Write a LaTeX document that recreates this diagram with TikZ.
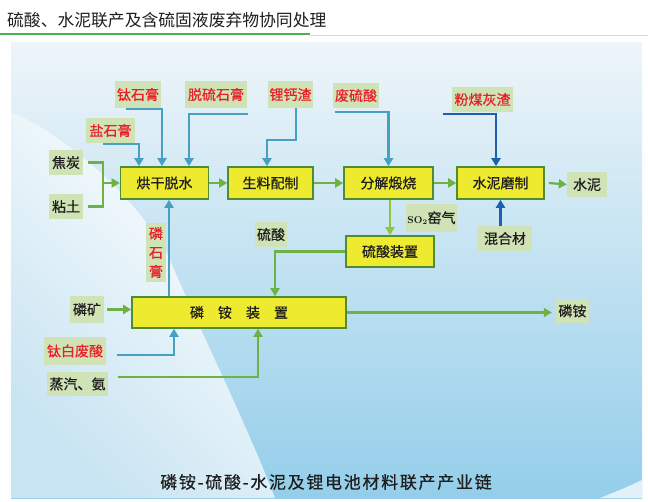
\documentclass[tikz,border=0pt]{standalone}
\usepackage{fontspec}
\newfontfamily\cjk{Noto Sans CJK SC}
\newfontfamily\cjkb{Noto Sans CJK SC}[FakeBold=0.6]
\newfontfamily\cjkcap{Noto Sans CJK SC}[FakeBold=0.5, LetterSpace=10]
\usetikzlibrary{arrows.meta,calc}
\definecolor{boxfill}{RGB}{238,234,48}
\definecolor{boxdraw}{RGB}{80,140,50}
\definecolor{labfill}{RGB}{208,227,182}
\definecolor{redtxt}{RGB}{232,30,40}
\definecolor{txt}{RGB}{30,30,30}
\definecolor{gline}{RGB}{110,178,70}
\definecolor{ygline}{RGB}{140,198,60}
\definecolor{bline}{RGB}{70,160,195}
\definecolor{dbline}{RGB}{30,95,175}
\definecolor{bgtop}{RGB}{238,245,249}
\definecolor{bgmid}{RGB}{198,227,242}
\definecolor{bgbot}{RGB}{148,206,234}
\definecolor{swb}{RGB}{200,228,242}
\definecolor{swr}{RGB}{226,240,248}
\definecolor{titlegreen}{RGB}{76,175,80}
\definecolor{titlegray}{RGB}{216,216,216}
\begin{document}
\begin{tikzpicture}[x=1pt,y=-1pt,
  box/.style={draw=boxdraw, line width=1.6pt, fill=boxfill, minimum height=32pt, inner sep=0pt, font=\cjkb\fontsize{14}{16}\selectfont, text=txt},
  lab/.style={fill=labfill, minimum height=25pt, inner sep=0pt, font=\cjkb\fontsize{14}{16}\selectfont, text=txt},
  rlab/.style={lab, text=redtxt},
  conn/.style={line width=2.2pt, -{Triangle[length=8pt,width=9pt]}},
  gconn/.style={conn, draw=gline},
  ygconn/.style={conn, draw=ygline},
  bconn/.style={conn, draw=bline},
  dbconn/.style={conn, draw=dbline},
  gplain/.style={line width=2.2pt, draw=gline}
]
\useasboundingbox (0,0) rectangle (648,502);
\fill[white] (0,0) rectangle (648,502);
% background panel
\shade[top color=bgtop, middle color=bgmid, bottom color=bgbot] (11,43) rectangle (642,498);
\shade[top color=white, bottom color=swb, shading angle=-45]
  (11,112) .. controls (60,132) and (130,190) .. (167,253)
  .. controls (195,320) and (245,420) .. (275,498) -- (11,498) -- cycle;
\fill[swr] (600,498) .. controls (615,492) and (630,486) .. (642,480) -- (642,498) -- cycle;
% title
\node[anchor=west, font=\cjk\fontsize{16.8}{18}\selectfont, text=txt, inner sep=0pt] (title) at (7,20) {硫酸、水泥联产及含硫固液废弃物协同处理};
\draw[titlegray, line width=0.9pt] (310,35) -- (648,35);
\draw[titlegreen, line width=2.2pt] (0,34) -- (310,34);
% process boxes
\node[box, minimum width=88pt] (b1) at (164.5,183) {烘干脱水};
\node[box, minimum width=85pt] (b2) at (270.5,183) {生料配制};
\node[box, minimum width=89pt] (b3) at (388.5,183) {分解煅烧};
\node[box, minimum width=87pt] (b4) at (500.5,183) {水泥磨制};
\node[box, minimum width=88pt, minimum height=31pt] (b5) at (390,251.5) {硫酸装置};
\node[box, minimum width=214pt, minimum height=31pt] (b6) at (239,312.5) {磷\hspace{1em}铵\hspace{1em}装\hspace{1em}置};
% labels
\node[rlab, minimum width=46pt, minimum height=27pt] (tsg) at (138,94.5) {钛石膏};
\node[rlab, minimum width=62pt, minimum height=27pt] (tlsg) at (216,94.5) {脱硫石膏};
\node[rlab, minimum width=45pt, minimum height=27pt] (lgz) at (290.5,94.5) {锂钙渣};
\node[rlab, minimum width=49pt] (ysg) at (110.5,130.5) {盐石膏};
\node[lab, minimum width=34pt] (jt) at (66,162.5) {焦炭};
\node[lab, minimum width=34pt] (nt) at (66,206.5) {粘土};
\node[rlab, minimum width=46pt] (fls) at (356,95.5) {废硫酸};
\node[rlab, minimum width=61pt] (fmh) at (482.5,99.5) {粉煤灰渣};
\node[lab, minimum width=40pt] (sn) at (587,184.5) {水泥};
\node[lab, minimum width=51pt, minimum height=28pt] (so) at (431.5,218) {{\rmfamily\bfseries\fontsize{10}{10}\selectfont SO\textsubscript{2}}窑气};
\node[lab, minimum width=54pt] (hhc) at (505,238.5) {混合材};
\node[lab, minimum width=32pt] (ls) at (271,234.5) {硫酸};
\node[rlab, minimum width=20pt, minimum height=59pt, align=center, font=\cjkb\fontsize{14}{19}\selectfont] (lsg) at (156,252.5) {磷\\石\\膏};
\node[lab, minimum width=34pt, minimum height=27pt] (lk) at (87,309.5) {磷矿};
\node[rlab, minimum width=62pt, minimum height=28pt] (tbfs) at (75,351) {钛白废酸};
\node[lab, minimum width=61pt, minimum height=24pt] (zqa) at (77.5,384) {蒸汽、氨};
\node[lab, minimum width=33pt, minimum height=24pt] (la) at (572.5,311) {磷铵};
% caption
\node[font=\cjkcap\fontsize{17}{18}\selectfont, text=txt] (cap) at (326,482) {磷铵-硫酸-水泥及锂电池材料联产产业链};
% connectors
\draw[bconn] ([xshift=-12pt,yshift=-1pt]tsg.south) -| ([xshift=-2.5pt]b1.north);
\draw[bconn] ([xshift=1pt,yshift=-6pt]tlsg.south east) -| ([xshift=24.5pt]b1.north);
\draw[bconn] ([xshift=-7.5pt,yshift=-1pt]ysg.south) -| ([xshift=-25.5pt]b1.north);
\draw[bconn] ([xshift=5.5pt]lgz.south) -- ++(0,32) -| ([xshift=-3.5pt]b2.north);
\coordinate (jn) at (103,183);
\draw[gplain] ([xshift=5pt]jt.east) -| (jn);
\draw[gplain] ([xshift=5pt]nt.east) -| (jn);
\draw[gconn] (jn) -- (b1.west);
\draw[gconn] (b1.east) -- (b2.west);
\draw[gconn] (b2.east) -- (b3.west);
\draw[bconn] ([xshift=-21pt,yshift=-4pt]fls.south) -| (b3.north);
\draw[gconn] (b3.east) -- (b4.west);
\draw[dbconn] ([xshift=-39.5pt,yshift=-2pt]fmh.south) -| ([xshift=-4.5pt]b4.north);
\draw[gconn] ([xshift=4pt]b4.east) -- (sn.west);
\draw[dbconn] (b4.south |- hhc.north) -- (b4.south);
\draw[ygconn] (b5.north |- b3.south) -- (b5.north);
\draw[gconn] (b5.west) -| ([xshift=36pt]b6.north);
\coordinate (p1) at ($(b1.south)+(4.5,0)$);
\draw[bconn] (p1 |- b6.north) -- (p1);
\draw[gconn] ([xshift=3pt]lk.east) -- (lk.east -| b6.west);
\draw[bconn] ([xshift=11pt,yshift=-4pt]tbfs.east) -| ([xshift=-65pt]b6.south);
\draw[gconn] ([xshift=9.5pt,yshift=7pt]zqa.east) -| ([xshift=19pt]b6.south);
\draw[gconn, shorten >=4pt] (b6.east) -- (b6.east -| la.west);
\end{tikzpicture}
\end{document}
